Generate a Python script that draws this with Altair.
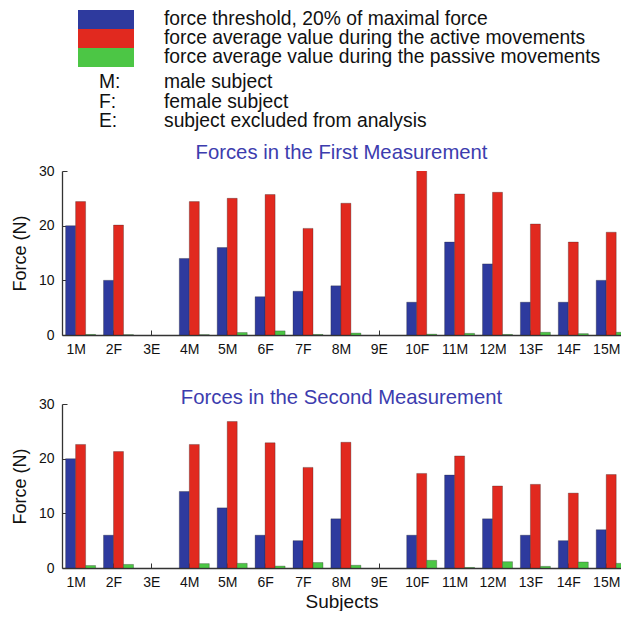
import json
import altair as alt
import pandas as pd

# ---------------- data ----------------
subjects = ["1M", "2F", "3E", "4M", "5M", "6F", "7F", "8M", "9E",
            "10F", "11M", "12M", "13F", "14F", "15M"]
series_names = [
    "force threshold, 20% of maximal force",
    "force average value during the active movements",
    "force average value during the passive movements",
]
panel_titles = ["Forces in the First Measurement", "Forces in the Second Measurement"]
key_letters = ["M:", "F:", "E:"]
key_texts = ["male subject", "female subject", "subject excluded from analysis"]

threshold_1 = [20, 10, None, 14, 16, 7, 8, 9, None, 6, 17, 13, 6, 6, 10]
active_1 = [24.4, 20.1, None, 24.4, 25.0, 25.7, 19.5, 24.1, None, 30.3, 25.8, 26.1, 20.3, 17.0, 18.8]
passive_1 = [0.1, 0.05, None, 0.05, 0.45, 0.75, 0.1, 0.35, None, 0.15, 0.3, 0.1, 0.5, 0.25, 0.5]

threshold_2 = [20, 6, None, 14, 11, 6, 5, 9, None, 6, 17, 9, 6, 5, 7]
active_2 = [22.6, 21.3, None, 22.6, 26.8, 22.9, 18.4, 23.0, None, 17.3, 20.5, 15.0, 15.3, 13.7, 17.1]
passive_2 = [0.45, 0.65, None, 0.8, 0.85, 0.35, 1.0, 0.5, None, 1.4, 0.1, 1.15, 0.3, 1.1, 0.85]

y_ticks = [0, 10, 20, 30]

# ---------------- style ----------------
colors = ["#2e3a9e", "#e1291f", "#4cc645"]
title_color = "#3c3cae"
FONT = "Liberation Sans"
PX = 37.9                    # pixels per category
W, H = 559, 164
BW = 10 / PX                 # bar width in category units
X_MIN = 1 - 13.6 / PX
X_DOMAIN = [X_MIN, X_MIN + W / PX]

color_scale = alt.Scale(domain=[0, 1, 2], range=colors)

rows = []
for p, triple in enumerate([(threshold_1, active_1, passive_1),
                            (threshold_2, active_2, passive_2)]):
    for i, s in enumerate(subjects):
        for k, vals in enumerate(triple):
            rows.append(dict(panel=p, idx=i + 1, subject=s, k=k,
                             series=series_names[k], value=vals[i]))
df = pd.DataFrame(rows)

label_expr = json.dumps(subjects) + "[datum.value - 1]"


def panel(p, show_xtitle, title_dy):
    data = df[df.panel == p]
    xaxis = alt.Axis(
        values=list(range(1, len(subjects) + 1)),
        labelExpr=label_expr,
        tickSize={"expr": "-5"},
        labelPadding=12,
        labelFontSize=14,
        labelColor="#111",
        domainColor="#333",
        tickColor="#333",
        domainWidth=1.3,
        grid=False,
        title="Subjects" if show_xtitle else None,
        titleFontSize=19,
        titleFontWeight="normal",
        titleColor="#111",
        titlePadding=3,
    )
    yaxis = alt.Axis(
        values=y_ticks,
        tickSize={"expr": "-5"},
        labelPadding=13,
        labelFontSize=14,
        labelColor="#111",
        domainColor="#333",
        tickColor="#333",
        domainWidth=1.3,
        grid=False,
        title="Force (N)",
        titleFontSize=18,
        titleFontWeight="normal",
        titleColor="#111",
        titlePadding=9,
    )
    return (
        alt.Chart(data)
        .transform_calculate(
            x0=f"datum.idx + (datum.k - 1) * {BW}",
            x1=f"datum.idx + datum.k * {BW}",
        )
        .mark_bar(stroke="#222", strokeWidth=0.6, strokeOpacity=0.5, clip=True)
        .encode(
            x=alt.X("x0:Q", scale=alt.Scale(domain=X_DOMAIN, nice=False, zero=False), axis=xaxis),
            x2="x1:Q",
            y=alt.Y("value:Q", scale=alt.Scale(domain=[0, 30], nice=False), axis=yaxis),
            y2=alt.datum(0),
            color=alt.Color("k:N", scale=color_scale, legend=None),
        )
        .properties(
            width=W,
            height=H,
            title=alt.TitleParams(panel_titles[p], fontSize=20.3, fontWeight="normal",
                                  color=title_color, anchor="middle", offset=1,
                                  dy=title_dy, font=FONT),
        )
    )


# ---------------- legend view ----------------
leg_df = pd.DataFrame({"k": [0, 1, 2], "label": series_names})
key_df = pd.DataFrame({"r": [0, 1, 2], "letter": key_letters, "desc": key_texts})

band_y = alt.Scale(domain=[0, 1, 2], range=[2, 59], paddingInner=0, paddingOuter=0)
point_y = alt.Scale(type="point", domain=[0, 1, 2], range=[74, 113], padding=0)

swatch = alt.Chart(leg_df).mark_rect().encode(
    x=alt.value(16), x2=alt.value(72),
    y=alt.Y("k:O", scale=band_y, axis=None),
    color=alt.Color("k:N", scale=color_scale, legend=None),
)
swatch_text = alt.Chart(leg_df).mark_text(align="left", baseline="middle", fontSize=19.3,
                                          dy=-1, color="#111", font=FONT).encode(
    x=alt.value(102),
    y=alt.Y("k:O", scale=band_y, axis=None),
    text="label:N",
)
key_letter = alt.Chart(key_df).mark_text(align="left", baseline="middle", fontSize=19.3,
                                         color="#111", font=FONT).encode(
    x=alt.value(37),
    y=alt.Y("r:O", scale=point_y, axis=None),
    text="letter:N",
)
key_desc = alt.Chart(key_df).mark_text(align="left", baseline="middle", fontSize=19.3,
                                       color="#111", font=FONT).encode(
    x=alt.value(102),
    y=alt.Y("r:O", scale=point_y, axis=None),
    text="desc:N",
)
legend_view = (
    alt.layer(swatch, swatch_text, key_letter, key_desc)
    .resolve_scale(y="independent")
    .properties(width=W, height=94)
)

chart = (
    alt.vconcat(legend_view, panel(0, False, 0), panel(1, True, 12), spacing=69)
    .properties(bounds="flush", padding={"left": 3, "top": 0, "right": 0, "bottom": 0})
    .configure(font=FONT)
    .configure_view(stroke=None)
)

chart.save("out.html", embed_options={"renderer": "svg", "actions": False})
